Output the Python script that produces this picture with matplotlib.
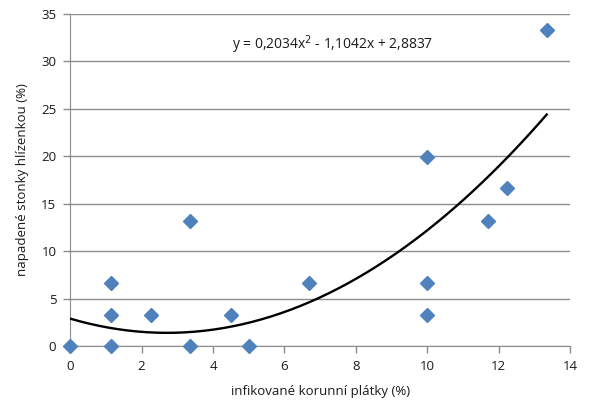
import numpy as np
import matplotlib
matplotlib.use("Agg")
import matplotlib.pyplot as plt

plt.rcParams['font.family'] = ['Open Sans', 'DejaVu Sans']

# infected petals (%) vs. stems attacked (%)
petals = [0, 1.15, 1.15, 1.15, 2.25, 3.35, 3.35, 4.5, 5.0, 6.7, 10.0, 10.0, 10.0, 11.7, 12.25, 13.35]
stems = [0, 0, 3.3, 6.6, 3.3, 0, 13.2, 3.3, 0, 6.6, 3.3, 6.6, 19.9, 13.2, 16.6, 33.3]
# trend line coefficients (a, b, c) from the chart label
coef = [0.2034, -1.1042, 2.8837]

fig = plt.figure(figsize=(5.9, 4.08), dpi=100)
ax = fig.add_axes([0.119, 0.152, 0.847, 0.814])

xs = np.linspace(0, max(petals), 200)
ax.plot(xs, np.polyval(coef, xs), color='black', lw=1.7, zorder=3)
ax.plot(petals, stems, 'D', color='#4F81BD', markersize=7.5, zorder=4, clip_on=False)

ax.set_xlim(0, 14)
ax.set_ylim(0, 35)
ax.set_xticks(range(0, 15, 2))
ax.set_yticks(range(0, 36, 5))
ax.yaxis.grid(True, color='#8c8c8c', lw=1)
ax.set_axisbelow(True)
for s in ['top', 'right']:
    ax.spines[s].set_visible(False)
for s in ['left', 'bottom']:
    ax.spines[s].set_color('#8c8c8c')
ax.tick_params(axis='both', colors='#8c8c8c', labelcolor='#1a1a1a', labelsize=9.5, length=5, width=1)
ax.tick_params(axis='y', length=5, pad=5)
ax.tick_params(axis='x', pad=5)

ax.set_xlabel('infikované korunní plátky (%)', fontsize=9.5, labelpad=9, color='#1a1a1a')
ax.set_ylabel('napadené stonky hlízenkou (%)', fontsize=9.5, labelpad=9, color='#1a1a1a')

ax.text(7.34, 31.8, 'y = 0,2034x$^2$ - 1,1042x + 2,8837', fontsize=10,
        ha='center', va='center', color='#1a1a1a')

fig.savefig('out.png', dpi=100)
